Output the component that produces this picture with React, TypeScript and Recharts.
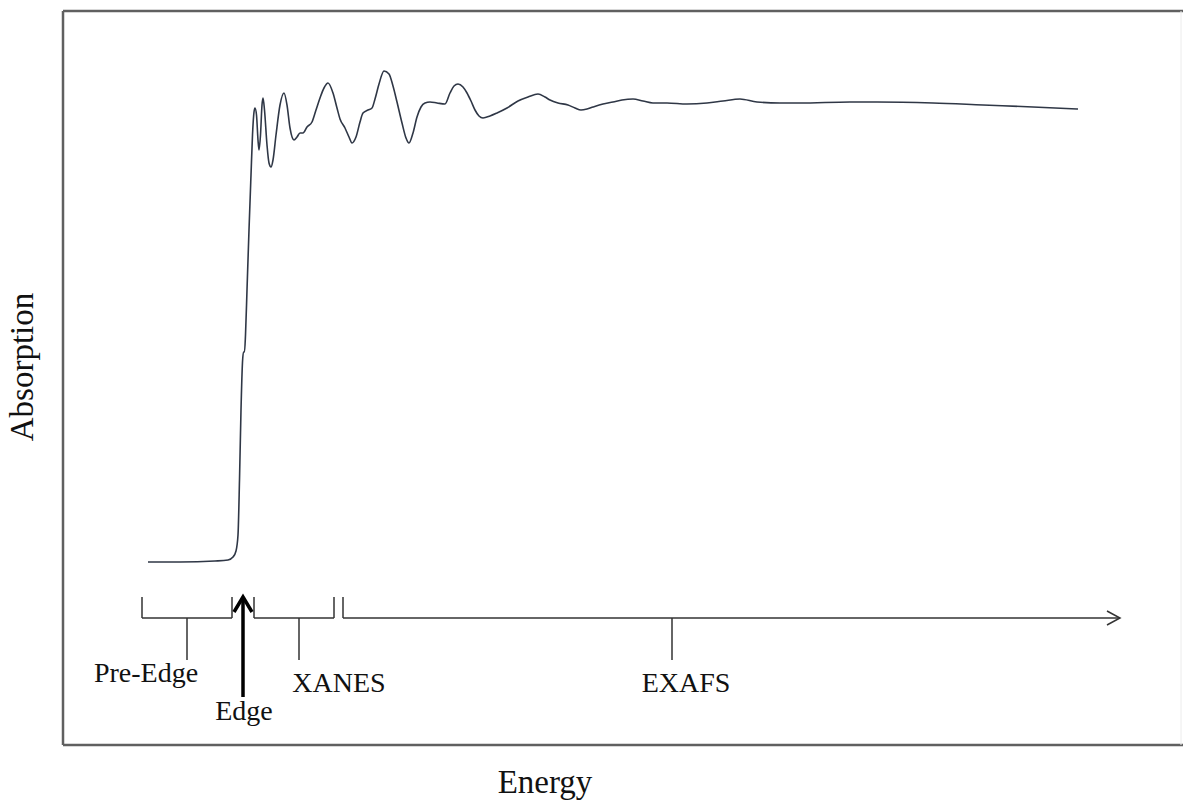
import React from "react"
import { LineChart, Line, XAxis, YAxis, ReferenceLine, ReferenceDot } from "recharts"

// energy (arbitrary units) and absorption (arbitrary units)
const energy = [
  85, 117, 152, 165, 170, 173, 175, 176.5, 178, 179.5, 180.5, 181.5, 182.5, 184, 186, 188, 189.5, 191, 192,
  193.5, 195, 196, 197.5, 199, 200, 201.5, 204, 206, 208, 210, 213, 217, 221, 224, 227, 231, 234, 237, 240,
  244, 249, 253, 257, 261, 265, 270, 274, 277, 282, 286, 289, 293, 297, 300, 305, 309, 312, 316, 321, 326,
  330, 334, 339, 343, 346, 350, 354, 358, 362, 367, 374, 382, 387, 391, 395, 400, 404, 408, 412, 416, 420,
  427, 434, 444, 455, 465, 475, 482, 487, 495, 505, 512, 518, 524, 530, 540, 550, 559, 570, 580, 590, 604,
  624, 644, 660, 677, 694, 717, 737, 787, 814, 870, 920, 970, 1015,
]
const absorption = [
  183, 183, 184, 185, 188, 194, 210, 265, 335, 383, 393, 393, 410, 455, 515, 570, 610, 633, 637,
  630, 605, 595, 610, 640, 647, 635, 600, 582, 578, 585, 610, 640, 652, 640, 617, 605, 608, 612, 612,
  618, 623, 635, 647, 657, 662, 652, 637, 626, 617, 608, 602, 608, 623, 632, 635, 637, 646, 661, 674, 671,
  659, 643, 622, 607, 602, 612, 628, 638, 642, 643, 642, 641, 652, 659, 661, 658, 652, 644, 635, 629, 627,
  629, 632, 637, 644, 648, 651, 648, 645, 642, 640, 637, 635, 636, 638, 641, 643, 645, 646, 644, 642, 642,
  641, 642, 644, 646, 643, 642, 642, 643, 643, 642, 640, 638, 636,
]

// energy regions marked under the spectrum
const regionNames = ["Pre-Edge", "XANES", "EXAFS"]
const regionStart = [79, 191, 280]
const regionEnd = [169, 271, 1057]
const regionMid = [124, 236, 609]
const edgeEnergy = 180

const spectrum = energy.map((e, i) => ({ energy: e, absorption: absorption[i] }))

const X_MAX = 1120
const Y_MAX = 734
const BRACKET = 127
const BRACKET_TOP = 148
const DROP = 85

const ink = "#333"
const box = "#606060"
const serif = "'Liberation Serif', 'Times New Roman', serif"

const arrow = (head: number, spread: number, color: string, width: number) => (p: any) => {
  const { x1, y1, x2, y2 } = p
  const len = Math.hypot(x2 - x1, y2 - y1) || 1
  const ux = (x2 - x1) / len
  const uy = (y2 - y1) / len
  const bx = x2 - ux * head
  const by = y2 - uy * head
  const px = -uy * spread
  const py = ux * spread
  return (
    <g>
      <line x1={x1} y1={y1} x2={x2} y2={y2} stroke={color} strokeWidth={width} />
      <polyline
        points={`${bx + px},${by + py} ${x2},${y2} ${bx - px},${by - py}`}
        fill="none"
        stroke={color}
        strokeWidth={width}
      />
    </g>
  )
}

const word = (text: string, size: number, rotate = false) => (p: any) => (
  <text
    x={p.cx}
    y={p.cy}
    textAnchor="middle"
    fontFamily={serif}
    fontSize={size}
    fill="#111"
    transform={rotate ? `rotate(-90, ${p.cx}, ${p.cy})` : undefined}
  >
    {text}
  </text>
)

// label anchor points (energy, absorption) for each text
const labelX = [83, 276, 623]
const labelY = [63, 53, 53]

export default function App() {
  return (
    <div style={{ position: "absolute", left: 0, top: 0, width: 1183, height: 801, background: "#fff" }}>
      <LineChart width={1183} height={801} data={spectrum} margin={{ top: 11, right: 0, bottom: 56, left: 63 }}>
        <XAxis type="number" dataKey="energy" domain={[0, X_MAX]} hide />
        <YAxis type="number" domain={[0, Y_MAX]} hide />

        <ReferenceLine segment={[{ x: 0, y: 0 }, { x: 0, y: Y_MAX }]} stroke={box} strokeWidth={2.5} ifOverflow="visible" />
        <ReferenceLine segment={[{ x: 0, y: 0 }, { x: X_MAX, y: 0 }]} stroke={box} strokeWidth={2.5} ifOverflow="visible" />
        <ReferenceLine segment={[{ x: 0, y: Y_MAX }, { x: X_MAX, y: Y_MAX }]} stroke={box} strokeWidth={2.5} ifOverflow="visible" />
        <ReferenceLine segment={[{ x: 1118, y: 0 }, { x: 1118, y: Y_MAX }]} stroke="#ececec" strokeWidth={1} ifOverflow="visible" />

        {regionNames.map((name, i) => (
          <React.Fragment key={name}>
            <ReferenceLine
              segment={[{ x: regionStart[i], y: BRACKET_TOP }, { x: regionStart[i], y: BRACKET }]}
              stroke={ink}
              strokeWidth={1.5}
            />
            {i < regionNames.length - 1 ? (
              <>
                <ReferenceLine
                  segment={[{ x: regionStart[i], y: BRACKET }, { x: regionEnd[i], y: BRACKET }]}
                  stroke={ink}
                  strokeWidth={1.5}
                />
                <ReferenceLine
                  segment={[{ x: regionEnd[i], y: BRACKET }, { x: regionEnd[i], y: BRACKET_TOP }]}
                  stroke={ink}
                  strokeWidth={1.5}
                />
              </>
            ) : (
              <ReferenceLine
                segment={[{ x: regionStart[i], y: BRACKET }, { x: regionEnd[i], y: BRACKET }]}
                shape={arrow(13, 7, ink, 1.5)}
              />
            )}
            <ReferenceLine
              segment={[{ x: regionMid[i], y: BRACKET }, { x: regionMid[i], y: DROP }]}
              stroke={ink}
              strokeWidth={1.5}
            />
            <ReferenceDot x={labelX[i]} y={labelY[i]} r={0} shape={word(name, 28)} ifOverflow="visible" />
          </React.Fragment>
        ))}

        <ReferenceLine
          segment={[{ x: edgeEnergy, y: 48 }, { x: edgeEnergy, y: 148 }]}
          shape={arrow(15, 9, "#000", 3.5)}
        />
        <ReferenceDot x={181} y={25} r={0} shape={word("Edge", 28)} ifOverflow="visible" />

        <ReferenceDot x={482} y={-48} r={0} shape={word("Energy", 33)} ifOverflow="visible" />
        <ReferenceDot x={-30} y={378} r={0} shape={word("Absorption", 33, true)} ifOverflow="visible" />

        <Line
          type="monotone"
          dataKey="absorption"
          stroke="#2f3746"
          strokeWidth={1.6}
          dot={false}
          isAnimationActive={false}
        />
      </LineChart>
    </div>
  )
}
